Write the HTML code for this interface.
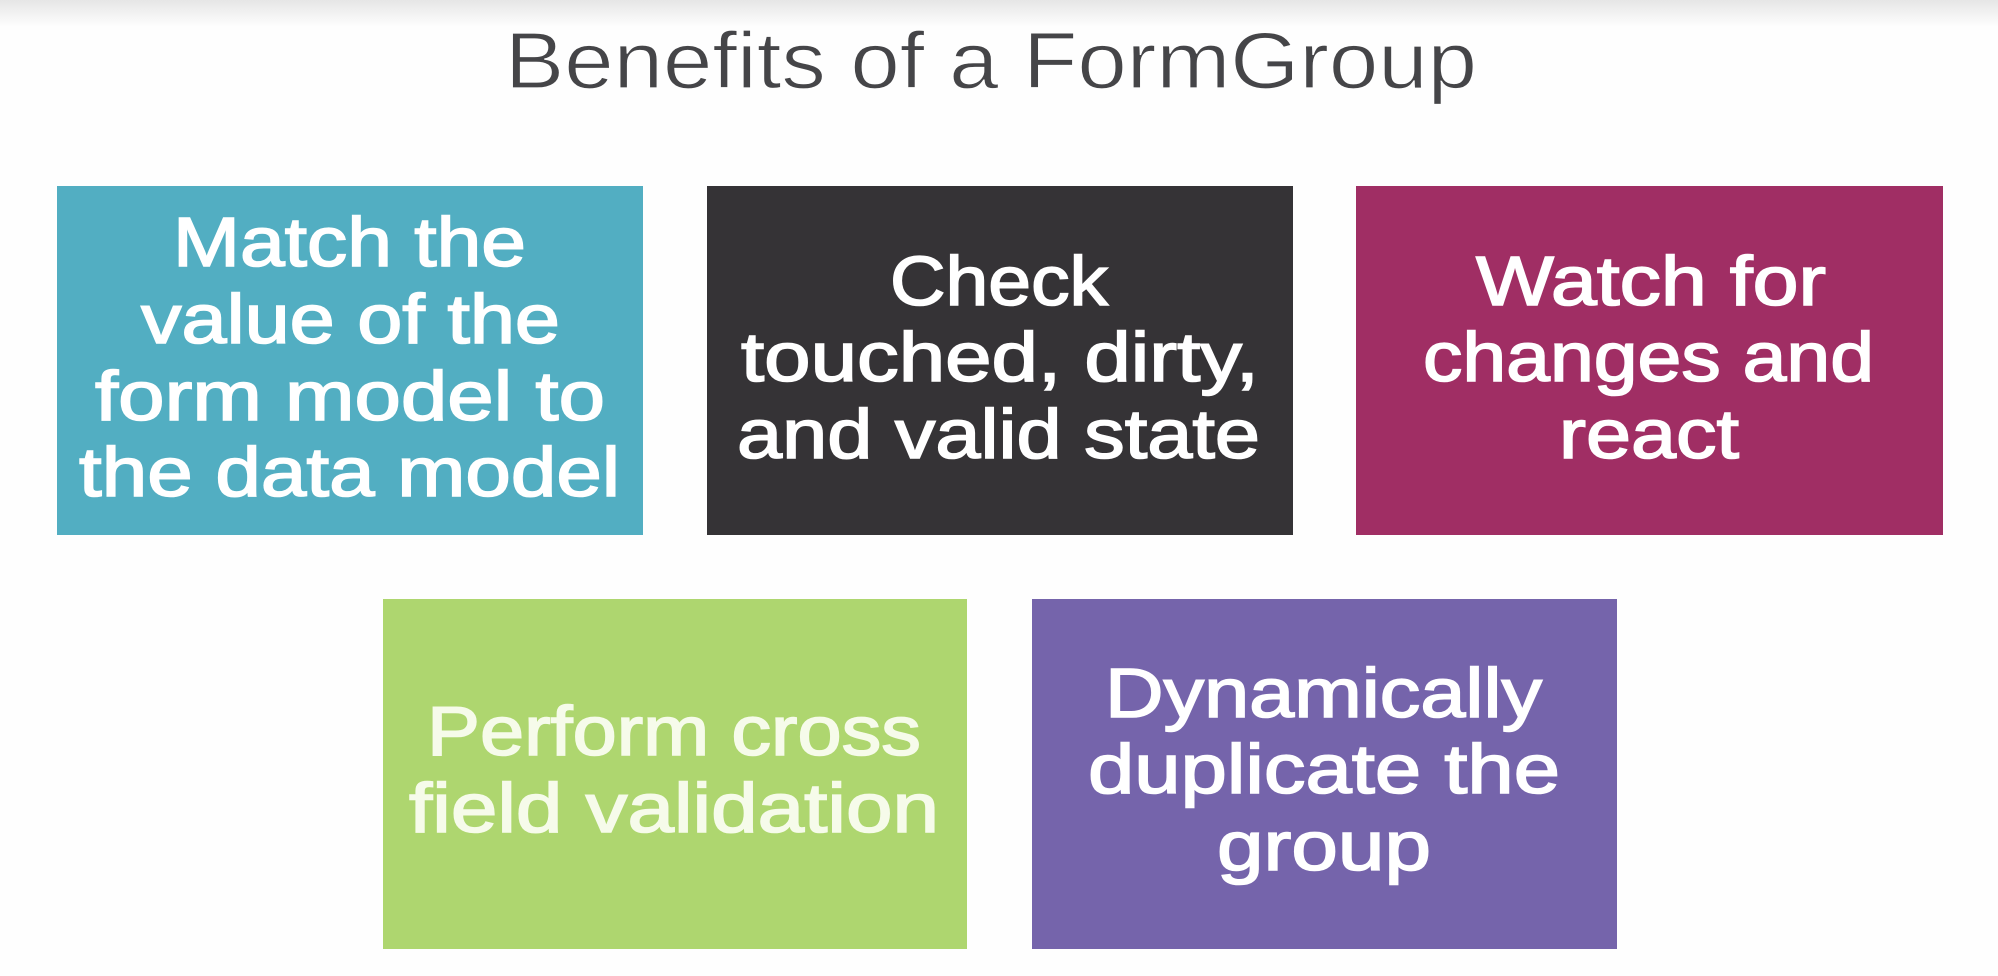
<!DOCTYPE html>
<html lang="en">
<head>
<meta charset="utf-8">
<title>Benefits of a FormGroup</title>
<style>
html,body{margin:0;padding:0;background:#fefefe;}
svg{display:block;}
.title{font-family:"Liberation Sans",sans-serif;font-size:80px;fill:#454548;stroke:#fefefe;stroke-width:1.2px;}
.line{font-family:"Liberation Sans",sans-serif;font-size:70px;fill:#fff;stroke:#fff;stroke-width:1.6px;paint-order:stroke;}
</style>
</head>
<body>
<svg width="1998" height="976" viewBox="0 0 1998 976" xmlns="http://www.w3.org/2000/svg">
  <defs>
    <linearGradient id="topFade" x1="0" y1="0" x2="0" y2="1">
      <stop offset="0" stop-color="#e6e6e6"/>
      <stop offset="1" stop-color="#fefefe"/>
    </linearGradient>
  </defs>
  <rect x="0" y="0" width="1998" height="976" fill="#fefefe"/>
  <rect x="0" y="0" width="1998" height="27" fill="url(#topFade)"/>

  <text class="title" x="505" y="88" textLength="972" lengthAdjust="spacingAndGlyphs">Benefits of a FormGroup</text>

  <g>
    <rect x="57" y="186" width="586" height="349" fill="#52aec2"/>
    <text class="line" x="173" y="266" textLength="353" lengthAdjust="spacingAndGlyphs">Match the</text>
    <text class="line" x="141" y="343" textLength="419" lengthAdjust="spacingAndGlyphs">value of the</text>
    <text class="line" x="95" y="420" textLength="510" lengthAdjust="spacingAndGlyphs">form model to</text>
    <text class="line" x="79" y="496" textLength="541" lengthAdjust="spacingAndGlyphs">the data model</text>
  </g>

  <g>
    <rect x="707" y="186" width="586" height="349" fill="#353336"/>
    <text class="line" x="890" y="305" textLength="218" lengthAdjust="spacingAndGlyphs">Check</text>
    <text class="line" x="741" y="381" textLength="518" lengthAdjust="spacingAndGlyphs">touched, dirty,</text>
    <text class="line" x="737" y="458" textLength="523" lengthAdjust="spacingAndGlyphs">and valid state</text>
  </g>

  <g>
    <rect x="1356" y="186" width="587" height="349" fill="#a02e64"/>
    <text class="line" x="1476" y="305" textLength="350" lengthAdjust="spacingAndGlyphs">Watch for</text>
    <text class="line" x="1423" y="381" textLength="451" lengthAdjust="spacingAndGlyphs">changes and</text>
    <text class="line" x="1559" y="458" textLength="180" lengthAdjust="spacingAndGlyphs">react</text>
  </g>

  <g>
    <rect x="383" y="599" width="584" height="350" fill="#aed66f"/>
    <text class="line" x="427" y="755" textLength="494" lengthAdjust="spacingAndGlyphs" style="fill:#f6fbea;stroke:#f6fbea">Perform cross</text>
    <text class="line" x="409" y="832" textLength="530" lengthAdjust="spacingAndGlyphs" style="fill:#f6fbea;stroke:#f6fbea">field validation</text>
  </g>

  <g>
    <rect x="1032" y="599" width="585" height="350" fill="#7564ab"/>
    <text class="line" x="1105" y="717" textLength="437" lengthAdjust="spacingAndGlyphs">Dynamically</text>
    <text class="line" x="1088" y="793" textLength="472" lengthAdjust="spacingAndGlyphs">duplicate the</text>
    <text class="line" x="1217" y="870" textLength="214" lengthAdjust="spacingAndGlyphs">group</text>
  </g>
</svg>
</body>
</html>
